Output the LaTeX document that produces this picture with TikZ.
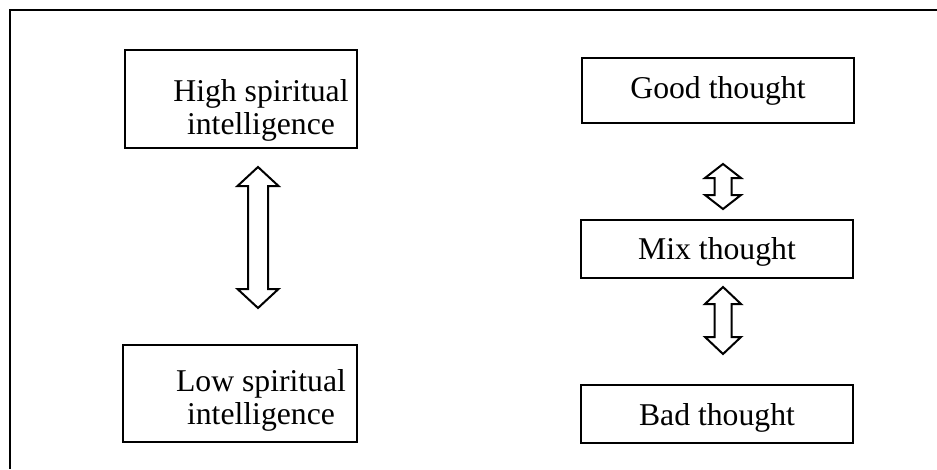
\documentclass[tikz,border=0pt]{standalone}
\usepackage{fontspec}
\setmainfont{Liberation Serif}
\usetikzlibrary{calc}
\begin{document}
\begin{tikzpicture}[x=1pt,y=-1pt,
  frame/.style={line width=2.4pt},
  box/.style={draw, line width=1.4pt, inner sep=0pt},
  lbl/.style={font=\fontsize{31.7}{33}\selectfont, align=center, inner sep=0pt},
  blockarrow/.style={draw, line width=2pt, fill=white, line join=miter}]
\useasboundingbox (0,0) rectangle (937,469);

% outer frame (top and left edges only)
\draw[frame] (937,10) -- (10,10) -- (10,469);

% left column boxes
\node[box, minimum width=232pt, minimum height=98pt] (high) at (241,99) {};
\node[lbl, anchor=base] (hightxt) at (261,134) {High spiritual\\intelligence};
\node[box, minimum width=234pt, minimum height=97pt] (low) at (240,393.5) {};
\node[lbl, anchor=base] (lowtxt) at (261,424) {Low spiritual\\intelligence};

% right column boxes
\node[box, minimum width=272pt, minimum height=65pt] (good) at (718,90.5) {};
\node[lbl, anchor=base] (goodtxt) at (718,98) {Good thought};
\node[box, minimum width=272pt, minimum height=58pt] (mix) at (717,249) {};
\node[lbl, anchor=base] (mixtxt) at (717,259) {Mix thought};
\node[box, minimum width=272pt, minimum height=58pt] (bad) at (717,414) {};
\node[lbl, anchor=base] (badtxt) at (717,425) {Bad thought};

% double block arrows: #1 top tip, #2 bottom tip, #3 head half-width,
% #4 shaft half-width, #5 head length
\newcommand\dblarrow[5]{%
  \path (#1) coordinate (tt) (#2) coordinate (bb);
  \draw[blockarrow] (tt) -- ++(#3,#5) -- ++(-#3+#4,0)
    -- ($(bb)+(#4,-#5)$) -- ++(#3-#4,0) -- (bb) -- ++(-#3,-#5)
    -- ++(#3-#4,0) -- ($(tt)+(-#4,#5)$) -- ++(-#3+#4,0) -- cycle;}

\coordinate (a1t) at (258,167);
\coordinate (a1b) at (258,308);
\coordinate (a2t) at (723,164);
\coordinate (a2b) at (723,209);
\coordinate (a3t) at (723,287);
\coordinate (a3b) at (723,354);

\dblarrow{a1t}{a1b}{20.5}{10}{19}
\dblarrow{a2t}{a2b}{18}{8.5}{14}
\dblarrow{a3t}{a3b}{18}{8.5}{17}
\end{tikzpicture}
\end{document}
